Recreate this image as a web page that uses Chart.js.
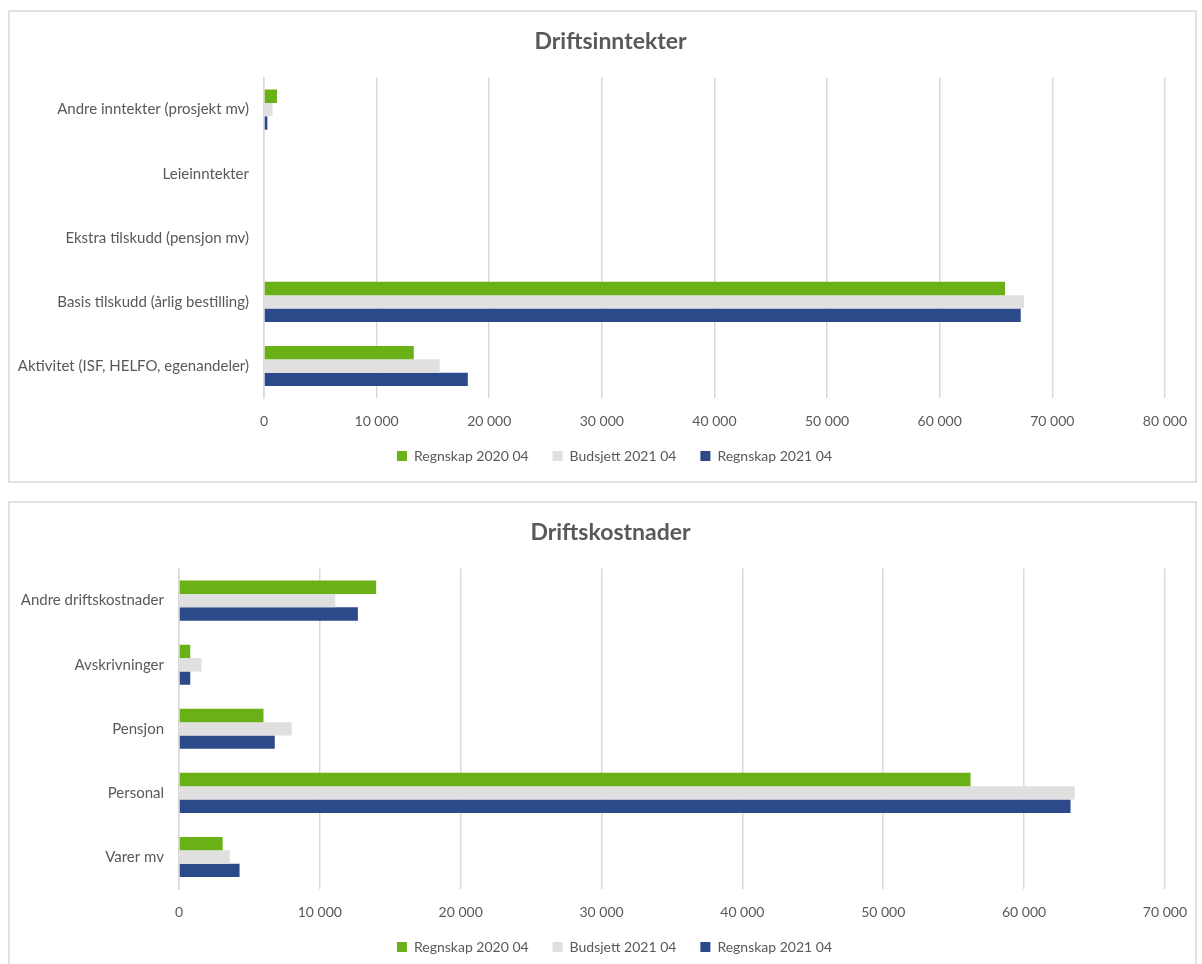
<!DOCTYPE html>
<html>
<head>
<meta charset="utf-8">
<title>Drift</title>
<script src="https://cdn.jsdelivr.net/npm/chart.js@4/dist/chart.umd.min.js"></script>
<style>
    html, body { margin: 0; padding: 0; background: #fff; overflow: hidden; }
    body { width: 1202px; height: 964px; position: relative; }
    .frame { position: absolute; left: 8px; width: 1189px; border: 2px solid #e2e2e2; box-sizing: border-box; }
    #frameTop { top: 10px; height: 473px; }
    #frameBottom { top: 501px; height: 480px; }
    canvas { position: absolute; left: 0; }
    #incomeChart { top: 0; }
    #costChart { top: 491px; }
</style>
</head>
<body>
<div class="frame" id="frameTop"></div>
<div class="frame" id="frameBottom"></div>
<canvas id="incomeChart" width="1202" height="490"></canvas>
<canvas id="costChart" width="1202" height="490"></canvas>
<script>
const seriesNames = ['Regnskap 2020 04', 'Budsjett 2021 04', 'Regnskap 2021 04'];
const seriesColors = ['#6AB017', '#E0E0E0', '#2C4A8A'];

// Driftsinntekter
const incomeCategories = [
    'Andre inntekter (prosjekt mv)',
    'Leieinntekter',
    'Ekstra tilskudd (pensjon mv)',
    'Basis tilskudd (årlig bestilling)',
    'Aktivitet (ISF, HELFO, egenandeler)'
];
const income2020 = [1150, 0, 0, 65800, 13300];
const incomeBudget2021 = [750, 0, 0, 67500, 15600];
const income2021 = [300, 0, 0, 67200, 18100];
const incomeTicks = [0, 10000, 20000, 30000, 40000, 50000, 60000, 70000, 80000];

// Driftskostnader
const costCategories = ['Andre driftskostnader', 'Avskrivninger', 'Pensjon', 'Personal', 'Varer mv'];
const cost2020 = [14000, 800, 6000, 56200, 3100];
const costBudget2021 = [11100, 1600, 8000, 63600, 3600];
const cost2021 = [12700, 800, 6800, 63300, 4300];
const costTicks = [0, 10000, 20000, 30000, 40000, 50000, 60000, 70000];

const FONT = 'Lato, "Open Sans", sans-serif';
const TEXT = '#595959';
const GRID = '#D9D9D9';

function fmt(v) {
    return String(v).replace(/\B(?=(\d{3})+(?!\d))/g, ' ');
}

// centre title and legend on the frame rather than on the plot row
const shiftBoxes = {
    id: 'shiftBoxes',
    afterLayout(chart) {
        const t = chart.titleBlock, l = chart.legend;
        if (t) { t.left += 27; t.right += 27; }
        if (l) { l.left += 31; l.right += 31; l.top -= 9; l.bottom -= 9; }
    }
};

function makeChart(canvasId, title, categories, values, ticks, zeroX) {
    const ctx = document.getElementById(canvasId).getContext('2d');
    return new Chart(ctx, {
        type: 'bar',
        data: {
            labels: categories,
            datasets: values.map((v, i) => ({
                label: seriesNames[i],
                data: v,
                backgroundColor: seriesColors[i],
                borderWidth: 0,
                categoryPercentage: 0.625,
                barPercentage: 1
            }))
        },
        plugins: [shiftBoxes],
        options: {
            indexAxis: 'y',
            responsive: false,
            animation: false,
            layout: { padding: { left: 0, right: 35, top: 0, bottom: 8 } },
            plugins: {
                title: {
                    display: true,
                    text: title,
                    color: TEXT,
                    font: { family: FONT, size: 23, weight: 'bold', lineHeight: 1.2 },
                    padding: { top: 28, bottom: 22 }
                },
                legend: {
                    position: 'bottom',
                    labels: {
                        color: TEXT,
                        font: { family: FONT, size: 14 },
                        boxWidth: 10,
                        boxHeight: 10,
                        padding: 24
                    }
                },
                tooltip: { enabled: false }
            },
            scales: {
                x: {
                    min: ticks[0],
                    max: ticks[ticks.length - 1],
                    afterBuildTicks: s => { s.ticks = ticks.map(t => ({ value: t })); },
                    afterFit: s => { s.height = 36; },
                    grid: { color: GRID, lineWidth: 1.5, drawTicks: false },
                    border: { display: false },
                    ticks: {
                        color: TEXT,
                        padding: 15,
                        maxRotation: 0,
                        font: { family: FONT, size: 14 },
                        callback: v => fmt(v)
                    }
                },
                y: {
                    afterFit: s => { s.width = zeroX; },
                    grid: { display: false, drawTicks: false },
                    border: { color: GRID, width: 1.5 },
                    ticks: {
                        color: TEXT,
                        padding: 15,
                        font: { family: FONT, size: 15 }
                    }
                }
            }
        }
    });
}

makeChart('incomeChart', 'Driftsinntekter', incomeCategories,
    [income2020, incomeBudget2021, income2021], incomeTicks, 264);
makeChart('costChart', 'Driftskostnader', costCategories,
    [cost2020, costBudget2021, cost2021], costTicks, 179);
</script>
</body>
</html>
